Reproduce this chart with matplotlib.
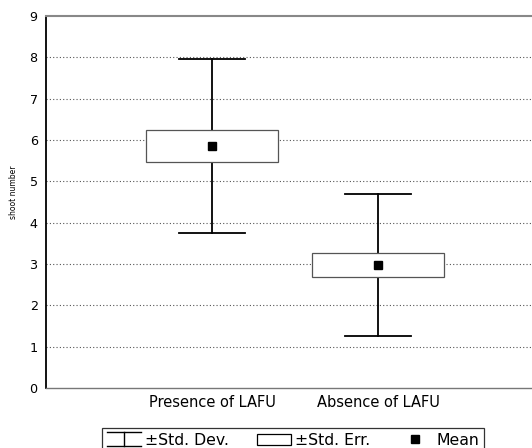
import matplotlib
matplotlib.use('Agg')
import matplotlib.pyplot as plt
from matplotlib.lines import Line2D
from matplotlib.patches import Rectangle
from matplotlib.legend_handler import HandlerBase

groups = ['Presence of LAFU', 'Absence of LAFU']
means = [5.86, 2.97]
se = [0.39, 0.29]
sd = [2.10, 1.72]
yticks = [0, 1, 2, 3, 4, 5, 6, 7, 8, 9]

plt.rcParams['font.family'] = 'DejaVu Sans'

fig = plt.figure(figsize=(5.32, 4.48), dpi=100)
ax = fig.add_axes([46/532, 60/448, 486/532, 372/448])

pos = [1, 2]
for x, m, e, s in zip(pos, means, se, sd):
    # std dev whisker
    ax.plot([x, x], [m - s, m + s], color='k', lw=1.3, zorder=2)
    ax.plot([x - 0.2, x + 0.2], [m + s, m + s], color='k', lw=1.3, zorder=2)
    ax.plot([x - 0.2, x + 0.2], [m - s, m - s], color='k', lw=1.3, zorder=2)
    # std err box
    ax.add_patch(Rectangle((x - 0.4, m - e), 0.8, 2*e, facecolor='white',
                           edgecolor='#555555', lw=0.9, zorder=3))
    ax.plot(x, m, 's', color='k', ms=5.5, zorder=4)

ax.set_xlim(0, 2.928)
ax.set_ylim(0, 9)
ax.set_yticks(yticks)
ax.set_xticks(pos)
ax.set_xticklabels(groups, fontsize=10.5)
ax.tick_params(axis='y', labelsize=9.2, length=0, pad=6)
ax.tick_params(axis='x', length=0, pad=5)
ax.set_ylabel('shoot number', fontsize=5.5)
ax.yaxis.set_label_coords(-0.058, 0.526)

for yv in yticks[1:-1]:
    ax.axhline(yv, color='#555555', lw=0.8, ls=(0, (1, 2)), zorder=1)

ax.spines['right'].set_visible(False)
ax.spines['top'].set_color('#888888')
ax.spines['top'].set_linewidth(1.5)
ax.spines['bottom'].set_color('#777777')
ax.spines['bottom'].set_linewidth(1.0)
ax.spines['left'].set_color('k')
ax.spines['left'].set_linewidth(1.3)


class IHandler(HandlerBase):
    def create_artists(self, legend, orig_handle, xdescent, ydescent,
                       width, height, fontsize, trans):
        x0, x1 = -xdescent, -xdescent + width
        y0, y1 = -ydescent - 1, -ydescent + height + 1
        xm = (x0 + x1) / 2
        arts = []
        for xs, ys in [([x0, x1], [y1, y1]), ([x0, x1], [y0, y0]), ([xm, xm], [y0, y1])]:
            l = Line2D(xs, ys, color='k', lw=1.0)
            l.set_transform(trans)
            arts.append(l)
        return arts


h_sd = object()
h_se = Rectangle((0, 0), 1, 1, facecolor='white', edgecolor='k', lw=0.9)
h_mean = Line2D([], [], marker='s', color='k', ls='none', ms=5.5)

leg = fig.legend([h_sd, h_se, h_mean], ['\u00b1Std. Dev.', '\u00b1Std. Err.', 'Mean'],
                 handler_map={h_sd: IHandler()}, loc='upper center',
                 bbox_to_anchor=(293/532, 20/448), ncol=3, fontsize=11.3,
                 frameon=True, fancybox=False, borderaxespad=0,
                 handlelength=2.2, handletextpad=0.25, columnspacing=1.75,
                 borderpad=0.3)
leg.get_frame().set_edgecolor('k')
leg.get_frame().set_linewidth(0.9)

fig.savefig('out.png', dpi=100)
